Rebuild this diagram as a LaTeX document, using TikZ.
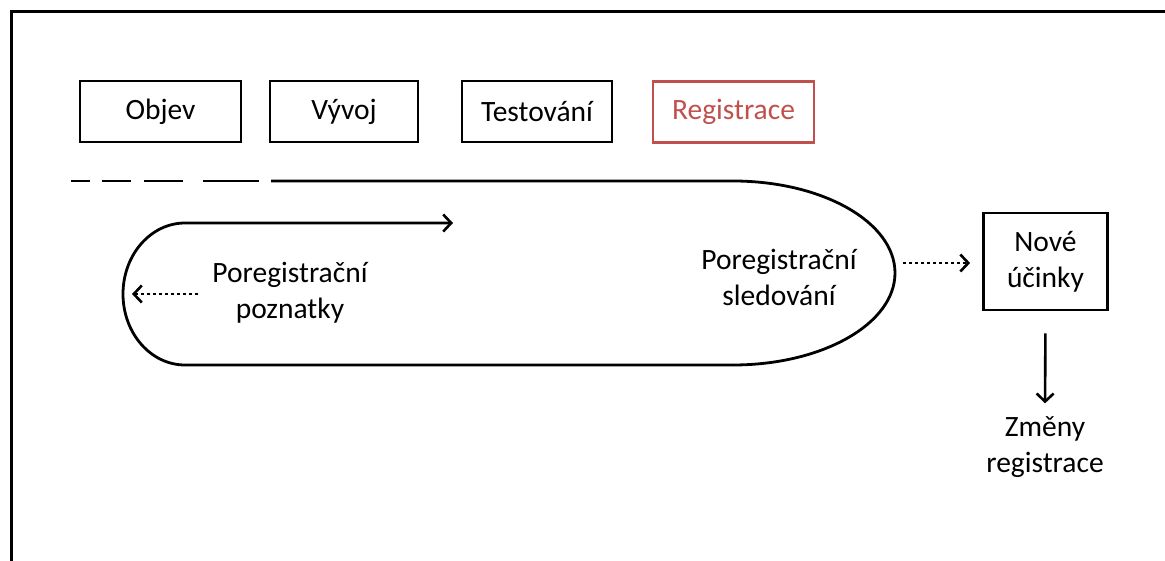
\documentclass[tikz,border=0pt]{standalone}
\usepackage{fontspec}
\setmainfont{Carlito}
\usetikzlibrary{arrows.meta}
\definecolor{regred}{RGB}{192,80,77}
\begin{document}
\begin{tikzpicture}[x=1pt,y=1pt,
  every node/.style={font=\fontsize{29.5}{36}\selectfont, align=center, inner sep=0pt},
  stagebox/.style={draw, line width=2.8pt, minimum height=61pt},
  thickline/.style={line width=2.8pt},
  tip/.style={-{Straight Barb[length=8pt,width=17pt,line width=2.6pt]}},
  dotline/.style={line width=2.8pt, dash pattern=on 3pt off 3pt}]
\useasboundingbox (0,0) rectangle (1165,-561);
% frame
\draw[line width=3pt] (11.5,-561) -- (11.5,-12) -- (1165,-12);
% stage boxes
\node[stagebox, minimum width=161pt] (objev) at (160.5,-111.5) {Objev};
\node[stagebox, minimum width=148pt] (vyvoj) at (344,-111.5) {Vývoj};
\node[stagebox, minimum width=150pt] (test) at (537,-111.5) {Testování};
\node[stagebox, minimum width=161pt, draw=regred, text=regred] (reg) at (733.5,-112) {Registrace};
% top line (dashed then solid) and right ellipse
\draw[thickline, dash pattern=on 19pt off 12pt on 29pt off 13pt on 39pt off 20pt on 56pt off 13pt] (71,-181) -- (272,-181);
\draw[thickline] (271,-181) -- (733,-181) arc[start angle=90, end angle=-90, x radius=162, y radius=92];
% bottom line and inner loop
\draw[thickline, tip] (733,-365) -- (185,-365) arc[start angle=270, end angle=90, x radius=62, y radius=71] -- (453,-223);
% texts
\node (poz) at (290,-293) {Poregistrační\\poznatky};
\node (sled) at (779,-277) {Poregistrační\\sledování};
\coordinate (lefttip) at (132,-294);
\draw[dotline, tip] (198,-294) -- (lefttip);
% new effects
\node[draw, line width=2.8pt, minimum width=124pt, minimum height=97pt] (nove) at (1045.5,-261.5) {Nové\\účinky};
\coordinate (rstart) at (903,-263);
\draw[dotline, tip] (rstart) -- ([xshift=-12pt]nove.west |- rstart);
\node (zmeny) at (1045,-447) {Změny\\registrace};
\draw[line width=2.6pt, tip, shorten <=22pt, shorten >=13pt] (nove.south) -- (zmeny.north);
\end{tikzpicture}
\end{document}
